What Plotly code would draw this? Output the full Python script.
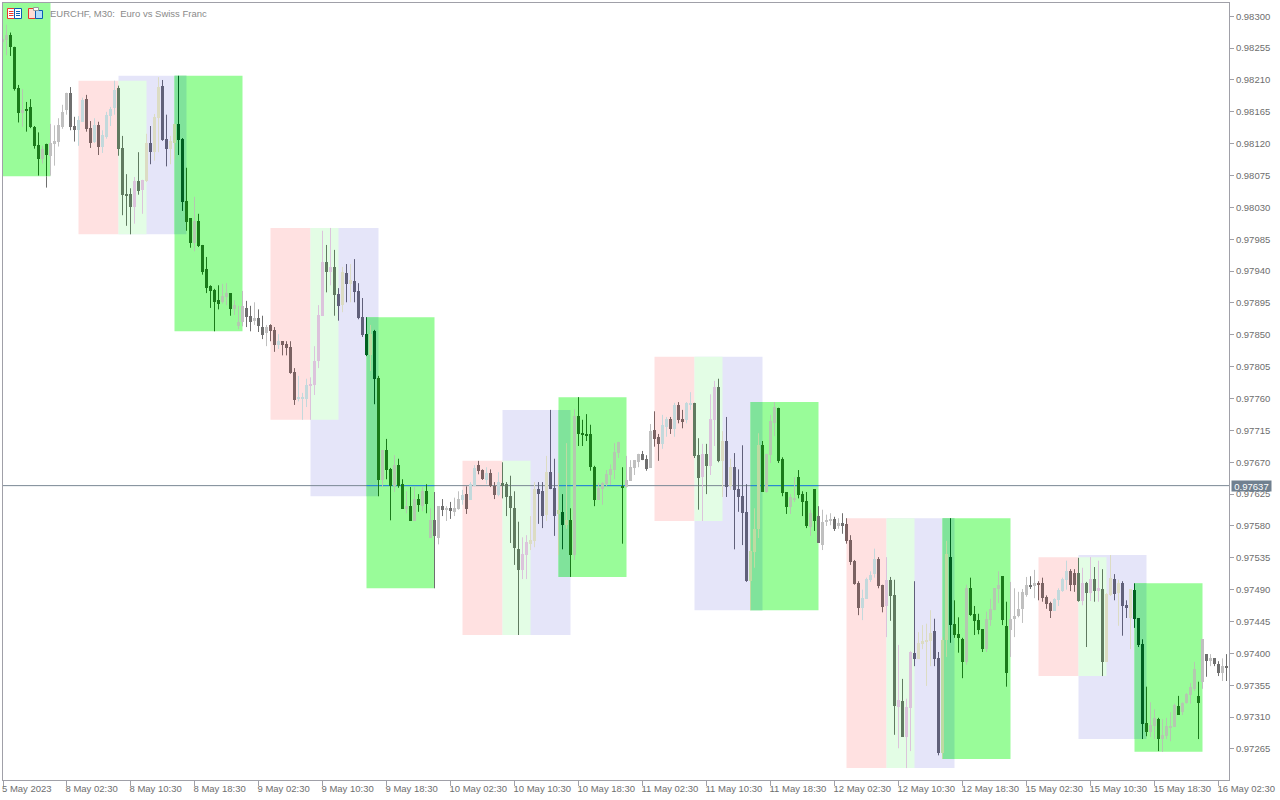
import plotly.graph_objects as go

# Prices in points (1 point = 0.00001)
open_pts = [
98264,98266,98274,98257,98198,98163,98169,98172,98144,98118,
98098,98120,98102,98120,98122,98144,98168,98192,98145,98139,
98151,98183,98142,98122,98146,98115,98129,98159,98170,98199,
98114,98049,98049,98031,98067,98055,98067,98121,98108,98156,
98202,98127,98112,98121,98148,98127,98039,98015,97980,98011,
97977,97943,97919,97913,97899,97896,97903,97909,97886,97862,
97868,97888,97877,97870,97874,97861,97853,97864,97857,97836,
97841,97837,97833,97797,97759,97761,97759,97778,97779,97813,
97877,97953,97939,97946,97908,97892,97937,97922,97926,97912,
97875,97851,97821,97855,97789,97645,97687,97660,97636,97666,
97639,97604,97608,97587,97618,97608,97629,97563,97588,97563,
97608,97603,97605,97600,97604,97617,97625,97617,97636,97666,
97659,97645,97655,97636,97624,97641,97639,97622,97605,97547,
97518,97539,97555,97559,97632,97629,97596,97656,97634,97597,
97600,97581,97588,97539,97735,97711,97710,97710,97663,97617,
97632,97639,97652,97659,97683,97636,97635,97644,97662,97670,
97682,97675,97662,97716,97706,97696,97720,97731,97717,97751,
97731,97730,97751,97754,97680,97649,97682,97665,97730,97776,
97672,97700,97636,97663,97632,97622,97600,97502,97543,97576,
97694,97628,97680,97725,97747,97675,97628,97607,97619,97649,
97625,97615,97578,97632,97594,97553,97586,97587,97590,97580,
97584,97583,97560,97531,97500,97464,97477,97504,97512,97533,
97497,97467,97504,97483,97324,97333,97282,97323,97401,97392,
97413,97416,97418,97432,97394,97259,97419,97536,97442,97427,
97420,97388,97492,97456,97447,97434,97406,97447,97461,97491,
97509,97439,97433,97449,97453,97463,97483,97497,97495,97499,
97499,97480,97471,97460,97475,97488,97504,97516,97514,97514,
97474,97499,97485,97505,97488,97491,97388,97482,97505,97485,
97499,97468,97450,97490,97450,97413,97302,97289,97297,97307,
97279,97283,97296,97296,97326,97317,97330,97341,97350,97340,
97360,97399,97389,97393,97385,97372,97382]

high_pts = [
98268,98288,98277,98257,98203,98197,98179,98183,98145,98136,
98117,98120,98148,98146,98156,98175,98192,98200,98158,98159,
98185,98189,98152,98156,98151,98139,98165,98172,98209,98202,
98131,98077,98057,98073,98108,98069,98134,98145,98162,98214,
98210,98161,98131,98148,98216,98128,98086,98015,98045,98021,
97977,97960,97920,97915,97920,97922,97923,97909,97899,97891,
97912,97898,97891,97896,97886,97877,97864,97865,97861,97851,
97841,97841,97841,97803,97792,97768,97788,97790,97834,97892,
97997,97977,98001,97970,97916,97946,97950,97950,97957,97923,
97902,97875,97864,97857,97792,97687,97703,97662,97680,97675,
97646,97629,97635,97635,97625,97635,97639,97605,97628,97608,
97618,97608,97614,97620,97629,97631,97636,97642,97666,97672,
97660,97663,97660,97642,97656,97670,97642,97651,97629,97586,
97564,97567,97594,97642,97642,97642,97679,97744,97675,97655,
97625,97697,97605,97745,97762,97730,97738,97723,97665,97641,
97642,97659,97667,97697,97699,97663,97679,97673,97673,97682,
97686,97680,97724,97742,97710,97737,97734,97734,97754,97755,
97744,97755,97769,97754,97704,97696,97696,97766,97785,97788,
97714,97734,97675,97683,97660,97694,97639,97562,97605,97711,
97700,97682,97737,97755,97747,97677,97628,97625,97649,97659,
97629,97628,97603,97632,97608,97603,97596,97598,97593,97591,
97598,97591,97567,97532,97502,97490,97507,97516,97548,97536,
97497,97536,97508,97504,97412,97364,97336,97403,97502,97430,
97440,97442,97461,97449,97402,97423,97559,97591,97475,97451,
97422,97497,97507,97467,97456,97434,97459,97477,97492,97516,
97509,97473,97501,97492,97487,97491,97508,97509,97518,97502,
97507,97482,97473,97478,97492,97507,97531,97519,97519,97535,
97521,97501,97536,97522,97531,97519,97485,97539,97512,97504,
97502,97475,97491,97499,97450,97420,97353,97331,97321,97309,
97307,97309,97317,97329,97340,97331,97344,97358,97388,97360,
97420,97399,97399,97393,97389,97393,97399]

low_pts = [
98264,98245,98244,98195,98150,98144,98137,98142,98113,98075,
98092,98058,98075,98089,98116,98141,98161,98139,98123,98117,
98151,98137,98114,98121,98104,98107,98127,98145,98161,98103,
98019,98004,97992,98007,98048,98021,98066,98091,98096,98108,
98124,98088,98091,98098,98104,98025,97997,97973,97968,97974,
97935,97909,97888,97855,97886,97894,97892,97877,97878,97858,
97862,97861,97855,97864,97854,97844,97834,97841,97826,97830,
97821,97821,97795,97751,97756,97730,97748,97730,97765,97803,
97877,97910,97920,97877,97870,97882,97896,97896,97896,97872,
97847,97820,97799,97752,97622,97635,97646,97588,97628,97634,
97604,97598,97587,97587,97600,97601,97598,97563,97492,97554,
97594,97587,97590,97594,97603,97610,97597,97617,97636,97653,
97645,97639,97635,97618,97622,97619,97594,97556,97525,97426,
97505,97505,97546,97550,97583,97577,97587,97632,97566,97539,
97547,97576,97508,97532,97693,97693,97700,97658,97608,97617,
97610,97636,97638,97646,97676,97555,97634,97644,97652,97663,
97673,97658,97662,97692,97672,97689,97706,97710,97706,97725,
97718,97725,97744,97676,97603,97587,97625,97652,97693,97670,
97621,97621,97631,97547,97600,97553,97501,97461,97521,97563,
97628,97627,97669,97707,97669,97622,97597,97597,97614,97619,
97594,97577,97566,97573,97556,97546,97580,97581,97573,97576,
97569,97555,97525,97497,97454,97447,97477,97501,97507,97492,
97458,97423,97446,97285,97266,97282,97238,97262,97382,97392,
97406,97354,97382,97382,97256,97251,97395,97415,97422,97401,
97365,97384,97453,97426,97427,97402,97402,97439,97461,97471,
97440,97353,97395,97423,97451,97443,97480,97491,97478,97475,
97473,97463,97450,97460,97467,97487,97490,97488,97487,97473,
97468,97409,97474,97473,97473,97368,97388,97481,97475,97439,
97425,97450,97406,97436,97409,97279,97283,97282,97279,97262,
97261,97279,97276,97296,97313,97313,97329,97329,97347,97279,
97350,97367,97382,97382,97368,97361,97361]

close_pts = [
98268,98274,98257,98197,98164,98168,98166,98144,98117,98098,
98113,98104,98121,98124,98146,98165,98192,98144,98139,98153,
98182,98141,98121,98146,98115,98132,98161,98169,98196,98112,
98048,98048,98031,98067,98053,98069,98121,98108,98158,98200,
98125,98112,98124,98148,98125,98038,98009,97980,98011,97975,
97939,97916,97912,97896,97894,97905,97909,97886,97892,97868,
97891,97875,97868,97874,97862,97850,97861,97855,97836,97841,
97836,97831,97796,97758,97762,97762,97779,97780,97813,97878,
97953,97939,97946,97906,97891,97939,97922,97927,97910,97874,
97850,97821,97851,97788,97645,97687,97659,97636,97666,97636,
97604,97608,97587,97618,97610,97629,97611,97588,97566,97608,
97603,97605,97601,97605,97618,97624,97604,97639,97662,97658,
97646,97655,97636,97624,97642,97636,97621,97605,97549,97518,
97540,97557,97560,97632,97625,97594,97656,97632,97594,97603,
97581,97588,97539,97735,97710,97709,97709,97663,97617,97634,
97641,97653,97660,97684,97699,97635,97645,97663,97673,97682,
97673,97660,97714,97703,97696,97723,97731,97717,97751,97730,
97727,97754,97754,97679,97648,97682,97665,97731,97776,97672,
97700,97635,97663,97631,97621,97598,97502,97545,97576,97694,
97628,97682,97728,97748,97672,97627,97607,97621,97619,97624,
97614,97580,97598,97587,97556,97586,97588,97590,97576,97584,
97580,97559,97529,97498,97464,97478,97505,97511,97533,97495,
97466,97504,97481,97326,97334,97282,97324,97402,97392,97415,
97418,97419,97429,97392,97259,97419,97540,97440,97426,97422,
97388,97492,97454,97446,97433,97406,97449,97463,97492,97497,
97447,97372,97449,97453,97463,97487,97497,97495,97499,97497,
97478,97470,97460,97477,97490,97505,97516,97497,97497,97474,
97499,97485,97505,97488,97492,97388,97484,97507,97484,97499,
97467,97464,97491,97449,97412,97300,97289,97299,97309,97279,
97285,97297,97297,97327,97313,97330,97343,97353,97378,97330,
97420,97389,97393,97385,97372,97382,97381]

assert len(open_pts) == len(high_pts) == len(low_pts) == len(close_pts) == 307

# Highlighted time/price boxes: first bar, last bar, top and bottom price in points
pink_boxes = [(19,29,98209,97992),(67,77,98001,97730),(115,125,97672,97426),
              (163,173,97819,97587),(211,221,97591,97238),(259,269,97536,97368)]
mint_boxes = [(29,36,98209,97992),(77,84,98001,97730),(125,132,97672,97426),
              (173,180,97819,97587),(221,228,97591,97238),(269,276,97536,97368)]
lavender_boxes = [(29,46,98216,97992),(77,94,98001,97622),(125,142,97744,97426),
                  (173,190,97819,97461),(221,238,97591,97238),(269,286,97539,97279)]
green_boxes = [(0,12,98319,98074),(43,60,98216,97855),(91,108,97875,97492),
               (139,156,97762,97508),(187,204,97755,97461),(235,252,97591,97251),
               (283,300,97499,97261)]

last_price = 97637
x_tick_bars = list(range(0, 305, 16))
x_tick_labels = ["5 May 2023","8 May 02:30","8 May 10:30","8 May 18:30","9 May 02:30",
                 "9 May 10:30","9 May 18:30","10 May 02:30","10 May 10:30","10 May 18:30",
                 "11 May 02:30","11 May 10:30","11 May 18:30","12 May 02:30","12 May 10:30",
                 "12 May 18:30","15 May 02:30","15 May 10:30","15 May 18:30","16 May 02:30"]
y_ticks_pts = list(range(98300, 97264, -45))

PT = 1e-5
W, H = 1280, 800
L, T, R, B = 3, 3, 1229, 780
FONT = "Liberation Sans"
FS = 9.5
AXIS = "#a0a0a8"
TEXT = "#6e6e6e"

FILL = {"pink": "#ffe1e1", "mint": "#e3fde5", "lav": "#e5e5f9", "green": "#99fc99", "both": "#80e39b"}
CANDLE = {
    "base": ("#c0c0c0", "#6f6f6f"),
    "pink": ("#c3d9dc", "#7b6262"),
    "mint": ("#dcc3dc", "#607a60"),
    "lav": ("#dcdcc3", "#60607a"),
    "green": ("#b4c8b0", "#1a7a1a"),
    "both": ("#bedba2", "#006020"),
}


def inside(box, i, p):
    return box[0] <= i < box[1] and box[3] <= p <= box[2]


def region(i, p):
    g = any(inside(b, i, p) for b in green_boxes)
    v = any(inside(b, i, p) for b in lavender_boxes)
    if g and v:
        return "both"
    if g:
        return "green"
    if any(inside(b, i, p) for b in mint_boxes):
        return "mint"
    if v:
        return "lav"
    if any(inside(b, i, p) for b in pink_boxes):
        return "pink"
    return "base"


def pieces(i, lo, hi):
    cuts = {lo, hi}
    for bs in (pink_boxes, mint_boxes, lavender_boxes, green_boxes):
        for b in bs:
            if b[0] <= i < b[1]:
                for c in b[2:]:
                    if lo < c < hi:
                        cuts.add(c)
    cuts = sorted(cuts)
    return [(a, b, region(i, (a + b) / 2)) for a, b in zip(cuts, cuts[1:])] or [(lo, hi, region(i, lo))]


wick_x, wick_y = {}, {}
bar_x, bar_base, bar_h, bar_c = [], [], [], []
for i, (o, h, l, c) in enumerate(zip(open_pts, high_pts, low_pts, close_pts)):
    up = c >= o
    top, bot = max(o, c), min(o, c)
    if top - bot < 1.5:
        bot = top - 1.5
    for a, b, reg in pieces(i, min(l, bot), max(h, top)):
        col = CANDLE[reg][0 if up else 1]
        wick_x.setdefault(col, []).extend([i, i, None])
        wick_y.setdefault(col, []).extend([a * PT, b * PT, None])
    for a, b, reg in pieces(i, bot, top):
        bar_x.append(i)
        bar_base.append(a * PT)
        bar_h.append((b - a) * PT)
        bar_c.append(CANDLE[reg][0 if up else 1])

fig = go.Figure()
for col in wick_x:
    fig.add_trace(go.Scatter(x=wick_x[col], y=wick_y[col], mode="lines", hoverinfo="skip",
                             line=dict(color=col, width=1), showlegend=False))
fig.add_trace(go.Bar(x=bar_x, y=bar_h, base=bar_base, width=0.75, marker=dict(color=bar_c, line=dict(width=0)),
                     hoverinfo="skip", showlegend=False))

shapes = []


def box_shape(b, col):
    return dict(type="rect", xref="x", yref="y", x0=b[0], x1=b[1], y0=b[3] * PT, y1=b[2] * PT,
                fillcolor=col, line=dict(width=0), layer="below")


for b in lavender_boxes:
    shapes.append(box_shape(b, FILL["lav"]))
for b in pink_boxes:
    shapes.append(box_shape(b, FILL["pink"]))
for b in mint_boxes:
    shapes.append(box_shape(b, FILL["mint"]))
for b in green_boxes:
    shapes.append(box_shape(b, FILL["green"]))
for g in green_boxes:
    for v in lavender_boxes:
        x0, x1 = max(g[0], v[0]), min(g[1], v[1])
        top, bot = min(g[2], v[2]), max(g[3], v[3])
        if x0 < x1 and bot < top:
            shapes.append(box_shape((x0, x1, top, bot), FILL["both"]))

x_lo, x_hi = (L - 2.5) / 4, (R - 2.5) / 4
shapes.append(dict(type="line", xref="x", yref="y", x0=x_lo, x1=x_hi, y0=last_price * PT, y1=last_price * PT,
                   line=dict(color="#7a8794", width=1), layer="below"))
for g in green_boxes:
    if g[3] <= last_price <= g[2]:
        shapes.append(dict(type="line", xref="x", yref="y", x0=g[0], x1=g[1], y0=last_price * PT, y1=last_price * PT,
                           line=dict(color="#1b8ad8", width=1), layer="below"))


def px(x):
    return (x - L) / (R - L)


def py(y):
    return 1 - (y - T) / (B - T)


def icon_rect(x0, y0, x1, y1, line, fill="rgba(0,0,0,0)"):
    shapes.append(dict(type="rect", xref="paper", yref="paper", x0=px(x0), x1=px(x1), y0=py(y0), y1=py(y1),
                       fillcolor=fill, line=dict(color=line, width=1), layer="above"))


def icon_line(x0, x1, y, col):
    shapes.append(dict(type="line", xref="paper", yref="paper", x0=px(x0), x1=px(x1), y0=py(y), y1=py(y),
                       line=dict(color=col, width=1), layer="above"))


RED, BLUE = "#e8392c", "#0a5fb4"
icon_rect(7.5, 8.5, 14.5, 18.5, RED, "#ffffff")
icon_rect(14.5, 8.5, 21.5, 18.5, BLUE, "#ffffff")
for yy in (11.5, 13.5, 15.5):
    icon_line(9, 13.5, yy, RED)
    icon_line(16, 20, yy, BLUE)
icon_rect(28.5, 8.5, 35.5, 18.5, RED, "#ffdcd4")
icon_rect(35.5, 10.5, 42.5, 18.5, BLUE, "#b4dcf8")
icon_rect(33.5, 7.5, 38.5, 10.5, "#9a9a9a", "#ffffff")

annotations = [
    dict(xref="paper", yref="paper", x=px(48), y=py(13.5), xanchor="left", yanchor="middle", showarrow=False,
         text="EURCHF, M30:\u00a0\u00a0Euro vs Swiss Franc", font=dict(family=FONT, size=FS, color="#8a8a8a")),
    dict(xref="paper", yref="paper", x=px(1251.5), y=py(485.5), xanchor="center", yanchor="middle", showarrow=False,
         text="0.97637", bgcolor="#708090", borderpad=0, width=39, height=10,
         font=dict(family=FONT, size=FS, color="#ffffff")),
]

fig.update_layout(
    width=W, height=H, margin=dict(l=L, t=T, r=W - R, b=H - B),
    paper_bgcolor="#ffffff", plot_bgcolor="#ffffff", barmode="overlay", bargap=0,
    showlegend=False, hovermode=False, shapes=shapes, annotations=annotations,
    font=dict(family=FONT, size=FS, color=TEXT),
    xaxis=dict(range=[x_lo, x_hi], tickmode="array", tickvals=[max(v, x_lo) for v in x_tick_bars],
               ticktext=x_tick_labels, tickangle=0,
               ticks="outside", ticklen=5, tickcolor=AXIS, tickwidth=1, showline=True, linecolor=AXIS, linewidth=1,
               mirror=True, showgrid=False, zeroline=False, ticklabelposition="outside right", ticklabelshift=-2,
               ticklabeloverflow="allow", tickfont=dict(family=FONT, size=FS, color=TEXT), fixedrange=True),
    yaxis=dict(range=[(98323 - 1.4126 * B) * PT, (98323 - 1.4126 * T) * PT], side="right", tickmode="array",
               tickvals=[v * PT for v in y_ticks_pts], ticktext=[f"{v * PT:.5f}" for v in y_ticks_pts],
               ticks="outside", ticklen=4, tickcolor=AXIS, tickwidth=1, showline=True, linecolor=AXIS, linewidth=1,
               mirror=True, showgrid=False, zeroline=False, tickfont=dict(family=FONT, size=FS, color=TEXT),
               fixedrange=True),
)

fig.write_html("out.html", config={"displayModeBar": False},
               post_script="document.body.style.margin='0';document.body.style.overflow='hidden';")
